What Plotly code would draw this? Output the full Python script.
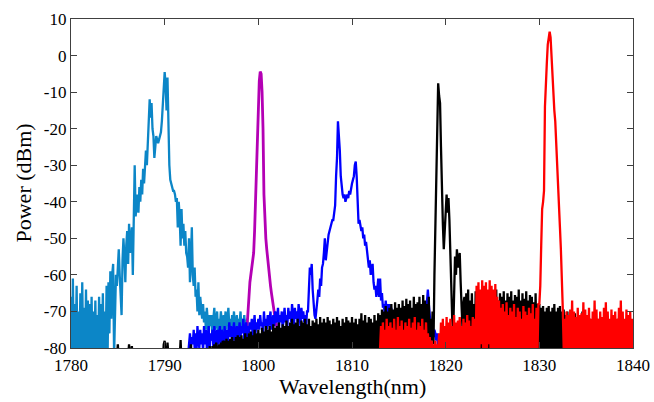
import numpy as np
import plotly.graph_objects as go

STEP = 0.1  # wavelength sampling step (nm)

# ---------------- light blue trace, starts at 1780.0 nm ----------------
lb_start = 1780.0
lb_power = [
    -66, -82, -61, -83, -68, -81, -63, -84, -70, -82,   # 1780
    -65, -83, -62, -81, -69, -84, -64, -82, -67, -83,   # 1781
    -68, -81, -66, -84, -70, -82, -67, -83, -71, -81,   # 1782
    -66, -84, -68, -82, -65, -83, -70, -81, -63, -84,   # 1783
    -62, -76, -59, -72, -60, -57, -82, -66, -60, -63,   # 1784
    -58, -53, -60, -66, -71, -56, -50, -55, -62, -52,   # 1785
    -48, -57, -46, -54, -50, -47, -60, -45, -30, -44,   # 1786
    -41, -38, -43, -36, -40, -34, -38, -31, -35, -29,   # 1787
    -26, -30, -22, -16, -12, -17, -13, -20, -22, -28,   # 1788
    -24, -22, -23, -24, -23, -22, -21, -18, -12, -9,    # 1789
    -4.5, -8, -15, -6, -21, -30, -34, -35, -36, -37,    # 1790
    -37, -38, -40, -39, -47, -40, -44, -52, -42, -50,   # 1791
    -46, -52, -48, -54, -55, -58, -50, -62, -56, -47,   # 1792
    -60, -63, -58, -66, -64, -70, -62, -71, -66, -69,   # 1793
    -72, -68, -73, -70, -75, -69, -73, -76, -71, -74,   # 1794
    -71, -78, -72, -69, -75, -73, -70, -76, -72, -74,   # 1795
    -70, -73, -77, -71, -74, -70, -75, -72, -69, -74,   # 1796
    -72, -76, -71, -74, -70, -75, -73, -71, -76, -72,   # 1797
    -73, -70, -75, -72, -74, -71, -76, -73, -72, -75,   # 1798
    -74,                                                # 1799.0
]

# ---------------- magenta trace, starts at 1798.8 nm ----------------
mg_start = 1798.8
mg_power = [
    -74, -71,                                            # 1798.8
    -66, -62, -60, -58, -57, -54, -48, -40, -28, -20,    # 1799
    -14, -7, -4.4, -5, -10, -20, -38, -45, -50, -53,     # 1800
    -56, -58, -60, -63, -65, -67, -69, -70, -72, -73,    # 1801
    -75,                                                 # 1802.0
]

# ---------------- blue trace, starts at 1792.5 nm ----------------
bl_start = 1792.5
bl_power = [
    -82, -79, -76, -80, -77,                             # 1792.5
    -79, -75, -80, -76, -81, -74, -78, -80, -75, -79,    # 1793
    -76, -81, -74, -79, -75, -80, -77, -74, -81, -76,    # 1794
    -78, -75, -80, -74, -77, -81, -75, -79, -76, -74,    # 1795
    -80, -75, -77, -81, -74, -78, -75, -80, -76, -73,    # 1796
    -77, -74, -79, -75, -73, -78, -76, -74, -79, -75,    # 1797
    -73, -77, -74, -76, -72, -78, -75, -73, -77, -74,    # 1798
    -76, -73, -75, -72, -77, -74, -71, -76, -73, -75,    # 1799
    -72, -75, -71, -74, -73, -76, -70, -74, -72, -75,    # 1800
    -71, -74, -72, -70, -75, -73, -71, -74, -70, -73,    # 1801
    -72, -69, -74, -71, -73, -70, -75, -72, -69, -73,    # 1802
    -71, -74, -69, -72, -70, -73, -68, -71, -74, -69,    # 1803
    -72, -70, -73, -68, -71, -74, -69, -72, -70, -73,    # 1804
    -71, -74, -70, -70, -64, -58, -60, -57, -64, -68,    # 1805
    -71, -72, -70, -67, -64, -66, -61, -63, -58, -57,    # 1806
    -54, -50, -56, -53, -51, -49, -48, -47, -46, -45,    # 1807
    -45, -43, -41, -33, -28, -18, -21, -26, -33, -37,    # 1808
    -38, -39, -38, -40, -39, -38, -39, -37, -38, -36,    # 1809
    -35, -34, -33, -30, -29, -33, -40, -46, -45, -47,    # 1810
    -48, -47, -50, -49, -52, -51, -53, -55, -58, -56,    # 1811
    -60, -58, -57, -62, -64, -63, -66, -64, -61, -66,    # 1812
    -61, -67, -65, -69, -68, -71, -67, -70, -68, -72,    # 1813
    -68, -71, -69, -72, -70, -74, -71, -73, -75, -72,    # 1814
    -74, -76, -73, -75, -77, -74, -76, -78, -75, -77,    # 1815
    -76, -78, -75, -77, -79, -76, -78, -75, -77, -79,    # 1816
    -76, -78, -74, -77, -75, -73, -76, -72, -74, -70,    # 1817
    -66, -64, -68, -72, -74, -76, -73, -77, -75, -76,    # 1818
    -78, -76, -80, -79, -82, -80, -83, -81, -84, -82,    # 1819
    -84, -82, -85, -83, -84, -82, -85, -83, -84, -82,    # 1820
    -85, -83, -84, -82, -85, -83, -84, -82, -85, -83,    # 1821
    -84, -79, -85, -83, -84, -82, -85, -79, -84, -83,    # 1822
    -85, -82, -84, -83, -79, -85, -82, -84, -83, -85,    # 1823
    -82, -84, -79, -83, -85, -82, -84, -83, -85, -82,    # 1824
    -84, -83, -85, -79, -84, -82, -85, -83, -84, -82,    # 1825
    -85,                                                 # 1826.0
]

# ---------------- black trace, starts at 1784.5 nm ----------------
bk_start = 1784.5
bk_power = [
    -84, -83, -84, -82, -83,                             # 1784.5
    -79, -83, -84, -82, -84, -83, -85, -82, -84, -83,    # 1785
    -84, -82, -79, -83, -82, -79.5, -84, -83, -85, -82,  # 1786
    -84, -83, -85, -82, -84, -83, -85, -82, -84, -83,    # 1787
    -85, -82, -84, -83, -85, -82, -84, -83, -85, -82,    # 1788
    -84, -83, -85, -82, -84, -83, -85, -82, -84, -79,    # 1789
    -78, -83, -84, -78.5, -83, -85, -82, -84, -83, -85,  # 1790
    -82, -84, -83, -85, -82, -84, -83, -77.8, -84, -83,  # 1791
    -85, -82, -84, -83, -85, -82, -84, -83, -79, -84,    # 1792
    -83, -85, -82, -84, -80, -83, -85, -82, -84, -80,    # 1793
    -83, -85, -81, -84, -82, -80, -84, -83, -79.5, -82,  # 1794
    -84, -79.5, -83, -79, -85, -78.5, -82, -84, -79, -83,        # 1795
    -78.5, -84, -78, -82, -78, -83, -77.5, -85, -78, -82,        # 1796
    -77.5, -83, -77, -84, -78, -82, -77, -85, -76.5, -83,        # 1797
    -77, -84, -76.5, -82, -77.5, -85, -76, -83, -77, -84,        # 1798
    -76, -82, -75.5, -85, -76.5, -83, -75, -84, -76, -82,        # 1799
    -75, -85, -76, -83, -74.5, -84, -75.5, -82, -74, -85,        # 1800
    -75, -83, -74, -84, -75.5, -82, -73.5, -85, -74.5, -83,      # 1801
    -74, -84, -73, -82, -74.5, -85, -73.5, -83, -74, -84,        # 1802
    -72.5, -82, -74, -85, -73, -83, -72, -84, -73.5, -82,        # 1803
    -73, -85, -72, -83, -74, -84, -72.5, -82, -73, -85,          # 1804
    -72, -83, -73.5, -84, -72, -82, -74, -85, -72.5, -83,        # 1805
    -73, -84, -72, -82, -73.5, -85, -71.5, -83, -73, -84,        # 1806
    -72, -82, -73, -85, -71.5, -83, -72.5, -84, -73.5, -82,      # 1807
    -72, -85, -73, -83, -71.5, -84, -72.5, -82, -74, -85,        # 1808
    -72, -83, -73, -84, -71.5, -82, -72.5, -85, -73, -83,        # 1809
    -71.5, -84, -73, -82, -72, -85, -73.5, -83, -72, -84,        # 1810
    -70.5, -82, -72.5, -85, -71, -83, -73, -84, -71.5, -82,      # 1811
    -72, -85, -73, -83, -71, -84, -72.5, -82, -70.5, -85,        # 1812
    -71, -83, -69.5, -84, -70, -82, -68.5, -85, -70, -83,        # 1813
    -69, -84, -68, -82, -69.5, -85, -67.5, -83, -69, -84,        # 1814
    -68, -82, -69, -85, -67, -83, -68.5, -84, -66.5, -82,        # 1815
    -68, -85, -67, -83, -69, -84, -66, -82, -68, -85,            # 1816
    -67.5, -83, -66, -84, -68, -82, -65.5, -85, -67, -83,        # 1817
    -68, -84, -66, -82, -72, -78, -70, -79, -60, -48,            # 1818
    -34, -16, -7.6, -11, -13, -25, -38, -46, -53, -48,           # 1819
    -40, -38, -43, -39, -45, -55, -66, -72, -76, -64,            # 1820
    -55, -60, -53, -58, -56, -54, -62, -70, -75, -68,            # 1821
    -66, -84, -65, -82, -64, -85, -67, -83, -65, -79,            # 1822
    -68, -84, -64.5, -82, -66, -85, -65, -83, -67, -84,          # 1823
    -64, -82, -66, -85, -65, -83, -64.5, -84, -66, -82,          # 1824
    -65, -85, -66.5, -83, -64, -84, -67, -82, -65, -85,          # 1825
    -66, -83, -64.5, -84, -67, -82, -65, -85, -66, -83,          # 1826
    -64.5, -84, -67, -82, -65.5, -85, -66, -83, -64, -84,        # 1827
    -67, -82, -65, -85, -66.5, -83, -64.5, -84, -67, -82,        # 1828
    -65.5, -85, -66, -83, -67.5, -84, -65, -82, -68, -85,        # 1829
    -68, -83, -69, -84, -68.5, -82, -70, -85, -69, -83,          # 1830
    -68.5, -84, -70, -82, -69, -85, -68, -83, -70, -84,          # 1831
    -69, -82, -68.5, -85, -70, -83, -69.5, -84, -71, -82,        # 1832
    -70, -84, -72, -82, -71, -85, -73, -83, -70.5, -84,          # 1833
    -72, -82, -71, -85, -73.5, -83, -70, -84, -72, -82,          # 1834
    -71.5, -85, -73, -83, -72, -84, -74, -82, -71, -85,          # 1835
    -73, -83, -72, -84, -74, -82, -71.5, -85, -73, -83,          # 1836
    -72, -84, -74, -82, -73, -85, -72.5, -83, -74.5, -84,        # 1837
    -73, -82, -75, -85, -72, -83, -74, -84, -73.5, -82,          # 1838
    -74, -85, -73, -83, -75, -84, -72.5, -82, -74, -85,          # 1839
    -73,                                                         # 1840.0
]

# ---------------- red trace, starts at 1813.0 nm ----------------
rd_start = 1813.0
rd_power = [
    -80, -74, -82, -73, -81, -75, -83, -72, -80, -74,            # 1813
    -82, -73, -81, -74.5, -83, -72, -80, -75, -82, -71.5,        # 1814
    -81, -74, -83, -72.5, -80, -75, -82, -73, -81, -74,          # 1815
    -83, -72, -80, -74.5, -82, -73, -81, -71.5, -83, -75,        # 1816
    -80, -73, -82, -74, -81, -72, -83, -75, -80, -73,            # 1817
    -82, -76, -81, -77, -83, -78, -80, -79, -82, -78,            # 1818
    -83, -79, -81, -76, -82, -73, -80, -72, -83, -74,            # 1819
    -81, -71.5, -82, -73, -80, -72, -83, -74, -81, -71,          # 1820
    -82, -73, -80, -72.5, -83, -71.5, -81, -74, -82, -72,        # 1821
    -80, -73, -83, -71, -81, -72.5, -82, -74, -80, -71.5,        # 1822
    -83, -72, -81, -63, -80, -62, -82, -64, -79, -61.5,          # 1823
    -81, -63, -80, -62, -83, -64, -79, -61.5, -82, -63,          # 1824
    -80, -64, -81, -62.5, -83, -66, -80, -67, -82, -69,          # 1825
    -81, -68, -83, -70, -80, -67.5, -82, -71, -81, -69,          # 1826
    -83, -70, -80, -68, -82, -71.5, -81, -69, -83, -70,          # 1827
    -80, -72, -82, -68.5, -81, -70, -83, -71, -80, -69,          # 1828
    -82, -70.5, -81, -68, -83, -72, -80, -69, -82, -68,          # 1829
    -68, -63, -52, -42, -40, -37, -14, -6, -2, 3,                # 1830
    5, 6.5, 5, -1, -3, -10, -15, -18, -23, -28,                  # 1831
    -36, -42, -47, -53, -60, -69, -80, -72, -82, -70,            # 1832
    -81, -71, -83, -69.5, -80, -67, -82, -70, -81, -71.5,        # 1833
    -83, -69, -80, -71, -82, -70.5, -81, -67.5, -83, -69.5,      # 1834
    -80, -71, -82, -69, -81, -72, -83, -70, -80, -67,            # 1835
    -82, -69.5, -81, -72, -83, -70, -80, -71.5, -82, -69,        # 1836
    -81, -67.5, -83, -70, -80, -72, -82, -69.5, -81, -71,        # 1837
    -83, -70, -80, -72, -82, -69, -81, -67, -83, -70,            # 1838
    -80, -72, -82, -69.5, -81, -71, -83, -70, -80, -72,          # 1839
    -81,                                                         # 1840.0
]

x_ticks = [1780, 1790, 1800, 1810, 1820, 1830, 1840]
x_tick_labels = ["1780", "1790", "1800", "1810", "1820", "1830", "1840"]
y_ticks = [-80, -70, -60, -50, -40, -30, -20, -10, 0, 10]
y_tick_labels = ["-80", "-70", "-60", "-50", "-40", "-30", "-20", "-10", "0", "10"]


def grid(start, values):
    return np.round(start + STEP * np.arange(len(values)), 3)


series = [
    (lb_start, lb_power, "#0c86c7", 2.3),
    (mg_start, mg_power, "#b400b4", 2.8),
    (bl_start, bl_power, "#0000ff", 2.3),
    (bk_start, bk_power, "#000000", 2.3),
    (rd_start, rd_power, "#ff0000", 2.3),
]

fig = go.Figure()
for start, vals, color, w in series:
    fig.add_trace(go.Scatter(x=grid(start, vals), y=vals, mode="lines",
                             line=dict(color=color, width=w), showlegend=False))

font = "Liberation Serif, Times New Roman, serif"
axis_common = dict(showline=True, linecolor="#404040", linewidth=1.2, mirror="ticks",
                   ticks="inside", ticklen=6, tickcolor="#404040", showgrid=False,
                   zeroline=False, automargin=False,
                   tickfont=dict(family=font, size=17, color="#000"))

fig.update_layout(
    width=654, height=402,
    margin=dict(l=71, r=21, t=19, b=54),
    paper_bgcolor="white", plot_bgcolor="white",
    xaxis=dict(range=[1780, 1840], tickvals=x_ticks, ticktext=x_tick_labels,
               ticklabelstandoff=1, ticklabeloverflow="allow", **axis_common),
    yaxis=dict(range=[-80, 10], tickvals=y_ticks, ticktext=y_tick_labels,
               **axis_common),
    annotations=[
        dict(text="Wavelength(nm)", x=0.5, y=0, xref="paper", yref="paper",
             xanchor="center", yanchor="middle", yshift=-38, showarrow=False,
             font=dict(family=font, size=22, color="#000")),
        dict(text="Power (dBm)", x=0, y=0.5, xref="paper", yref="paper",
             xanchor="center", yanchor="middle", xshift=-48, textangle=-90,
             showarrow=False, font=dict(family=font, size=22, color="#000")),
    ],
)

# remove the browser's default 8px body margin so the 654x402 figure fits the window
fig.write_html("out.html",
               config={"displayModeBar": False},
               post_script="document.body.style.margin='0';"
                           "document.body.style.overflow='hidden';")
